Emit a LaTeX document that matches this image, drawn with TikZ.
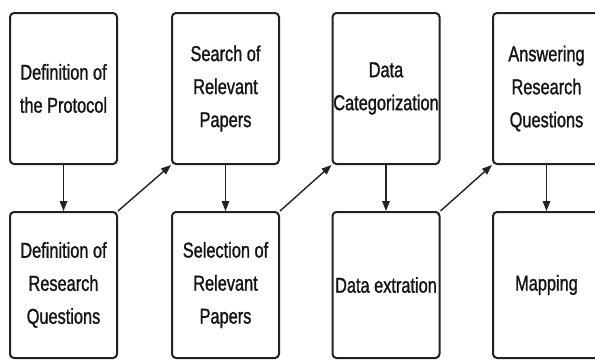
\documentclass[tikz,border=0pt]{standalone}
\usepackage{fontspec}
\setmainfont[FakeStretch=0.76,FakeBold=1.2]{Liberation Sans}
\usetikzlibrary{arrows.meta}
\definecolor{edge}{HTML}{222222}
\definecolor{ink}{HTML}{141414}
\begin{document}
\begin{tikzpicture}[x=1pt,y=1pt,
  box/.style={draw=edge, line width=2pt, rounded corners=4pt, fill=white,
    minimum width=107pt, inner sep=0pt, align=center, text=ink,
    font=\fontsize{21.5}{33}\selectfont},
  topbox/.style={box, minimum height=151pt},
  botbox/.style={box, minimum height=146pt},
  link/.style={draw=edge, line width=1.4pt, -{Triangle[length=10pt,width=7.5pt]}}]
\useasboundingbox (0,0) rectangle (595,360);
\fill[white] (0,0) rectangle (595,360);
\clip (0,0) rectangle (595,360);
\node[topbox] (t1) at (63.5,271.5) {Definition of\\the Protocol};
\node[topbox] (t2) at (225.5,271.5) {Search of\\Relevant\\Papers};
\node[topbox] (t3) at (386,271.5) {Data\\Categorization};
\node[topbox] (t4) at (546.5,271.5) {Answering\\Research\\Questions};
\node[botbox] (b1) at (63.5,75) {Definition of\\Research\\Questions};
\node[botbox] (b2) at (225.5,75) {Selection of\\Relevant\\Papers};
\node[botbox] (b3) at (386,75) {Data extration};
\node[botbox] (b4) at (546.5,75) {Mapping};
\draw[link] (t1.south) -- (b1.north);
\draw[link] (t2.south) -- (b2.north);
\draw[link] (t3.south) -- (b3.north);
\draw[link] (t4.south) -- (b4.north);
\draw[link] (b1.north east) -- (t2.south west);
\draw[link] (b2.north east) -- (t3.south west);
\draw[link] (b3.north east) -- (t4.south west);
\end{tikzpicture}
\end{document}
